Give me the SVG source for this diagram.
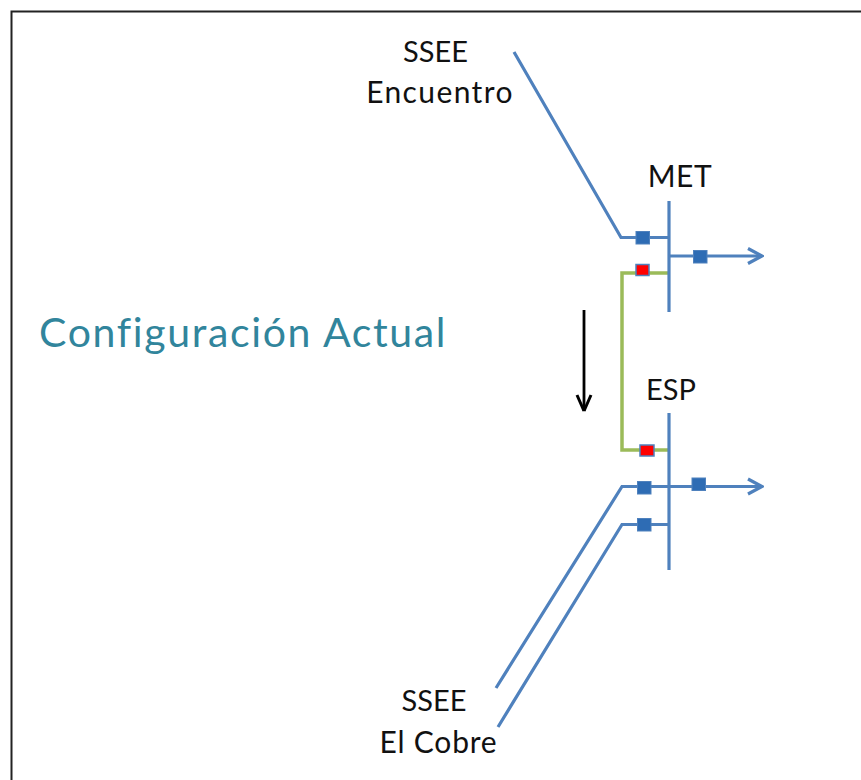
<svg xmlns="http://www.w3.org/2000/svg" width="861" height="780" viewBox="0 0 861 780">
<defs>
<marker id="ah" viewBox="0 0 20 20" refX="18" refY="10" markerWidth="20" markerHeight="20" markerUnits="userSpaceOnUse" orient="auto"><path d="M4 2.500 L18 10 L4 17.500" fill="none" stroke="#4f81bd" stroke-width="3.200"/></marker>
<marker id="ahb" viewBox="0 0 20 20" refX="18" refY="10" markerWidth="20" markerHeight="20" markerUnits="userSpaceOnUse" orient="auto"><path d="M2 3 L18 10 M18 10 L2 17" fill="none" stroke="#000" stroke-width="3"/></marker>
</defs>
<style>
text{font-family:"Lato","Noto Sans",sans-serif;fill:#111}
.lbl{font-size:30px;text-anchor:middle}
.b{fill:none;stroke:#4f81bd;stroke-width:3.200}
.g{fill:none;stroke:#9bbb59;stroke-width:3.500}
.sq{fill:#2e6cb4;stroke:#4f81bd;stroke-width:1}
.rd{fill:#f00;stroke:#4f81bd;stroke-width:1.500}
</style>
<rect width="861" height="780" fill="#fff"/>
<path d="M11.500 780V11.500H861" fill="none" stroke="#222" stroke-width="2"/>
<g id="connectors">
<path class="b" d="M514 52L621 237.500H669"/>
<path class="b" d="M669 256H762" marker-end="url(#ah)"/>
<path class="g" d="M669 273H622V450H669"/>
<path class="b" d="M496 688L622 486.500H762" marker-end="url(#ah)"/>
<path class="b" d="M498 727L622 524.500H669"/>
<path d="M584 310V411" fill="none" stroke="#000" stroke-width="2.800" marker-end="url(#ahb)"/>
</g>
<g id="bus-met"><path class="b" d="M669 201V312"/><text class="lbl" x="680" y="187" style="letter-spacing:.6px">MET</text></g>
<g id="bus-esp"><path class="b" d="M669 413V570"/><text class="lbl" x="671" y="400" style="font-size:29px">ESP</text></g>
<g id="breakers">
<rect class="sq" x="636" y="231.500" width="13.500" height="12.500"/>
<rect class="sq" x="693.500" y="250.500" width="13.500" height="12.500"/>
<rect class="rd" x="636" y="264.500" width="13" height="11"/>
<rect class="rd" x="640" y="445" width="14" height="11"/>
<rect class="sq" x="637.500" y="481.500" width="13.500" height="12.500"/>
<rect class="sq" x="692" y="478" width="13.500" height="12.500"/>
<rect class="sq" x="637.500" y="518.500" width="13.500" height="12.500"/>
</g>
<g id="ssee-encuentro"><text class="lbl" x="435.500" y="62" style="font-size:29px">SSEE</text><text class="lbl" x="440" y="103" style="letter-spacing:1.400px">Encuentro</text></g>
<g id="ssee-el-cobre"><text class="lbl" x="434" y="711" style="font-size:29px">SSEE</text><text class="lbl" x="438.500" y="753" style="letter-spacing:.8px">El Cobre</text></g>
<g id="title"><text x="39" y="347" font-size="41" style="fill:#31859c;letter-spacing:1.650px">Configuración Actual</text></g>
</svg>
